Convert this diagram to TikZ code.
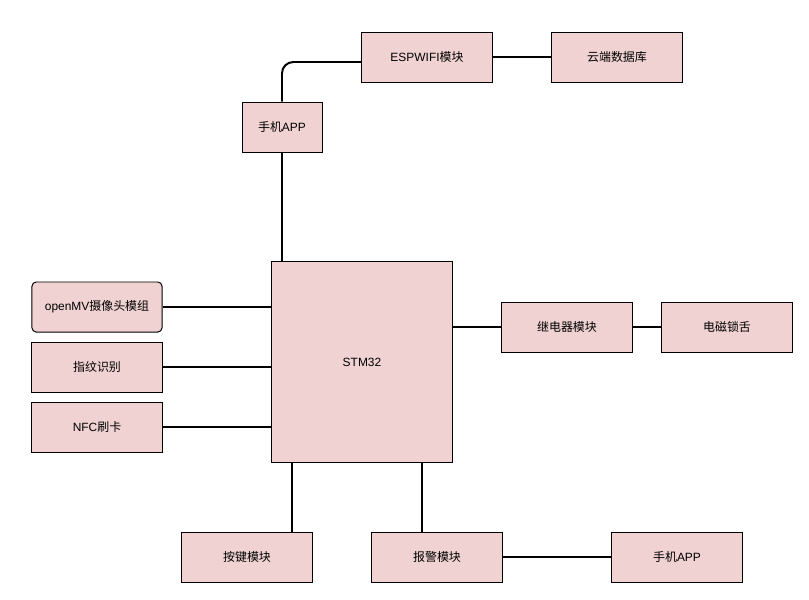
\documentclass[tikz,border=0pt]{standalone}
\usepackage{fontspec}
\setmainfont{Liberation Sans}
\newfontfamily\cjk{Noto Sans CJK SC}
\definecolor{boxpink}{RGB}{240,210,210}
\tikzset{
  block/.style={draw=black,line width=0.7pt,fill=boxpink,minimum width=3.25cm,minimum height=1.25cm,inner sep=0pt,font=\fontsize{8.5}{10}\selectfont},
  smallblock/.style={block,minimum width=2cm},
  link/.style={line width=1.4pt,black}
}

\begin{document}
\begin{tikzpicture}[x=0.025cm,y=-0.025cm]
\useasboundingbox (0,0) rectangle (809,599);
% upper chain
\node[block] (esp) at (427,57) {ESPWIFI{\cjk 模块}};
\node[block] (cloud) at (617,57) {\cjk 云端数据库};
\node[smallblock] (apptop) at (282,127) {{\cjk 手机}APP};
% controller
\node[block,minimum width=4.5cm,minimum height=5cm] (stm) at (362,362) {STM32};
% inputs
\node[block,rounded corners=3pt] (cam) at (97,307) {openMV{\cjk 摄像头模组}};
\node[block] (finger) at (97,367) {\cjk 指纹识别};
\node[block] (nfc) at (97,427) {NFC{\cjk 刷卡}};
% outputs
\node[block] (relay) at (567,327) {\cjk 继电器模块};
\node[block] (lock) at (727,327) {\cjk 电磁锁舌};
\node[block] (keys) at (247,557) {\cjk 按键模块};
\node[block] (alarm) at (437,557) {\cjk 报警模块};
\node[block] (appbot) at (677,557) {{\cjk 手机}APP};

\draw[link,rounded corners=8pt] (apptop.north) |- ([yshift=-0.125cm]esp.west);
\draw[link] (esp) -- (cloud);
\draw[link] (apptop.south) -- (apptop.south |- stm.north);
\foreach \n in {cam,finger,nfc} { \draw[link] (\n.east) -- (\n.east -| stm.west); }
\draw[link] (stm.east |- relay.west) -- (relay.west);
\draw[link] (relay) -- (lock);
\draw[link] ([xshift=-1.75cm]stm.south) -- ([xshift=-1.75cm]stm.south |- keys.north);
\draw[link] ([xshift=1.5cm]stm.south) -- ([xshift=1.5cm]stm.south |- alarm.north);
\draw[link] (alarm) -- (appbot);
\end{tikzpicture}
\end{document}
